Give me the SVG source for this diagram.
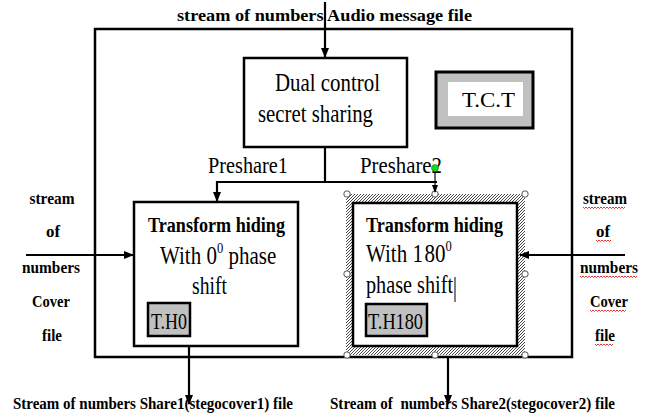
<svg xmlns="http://www.w3.org/2000/svg" width="650" height="417" viewBox="0 0 650 417" font-family="'Liberation Serif', 'Times New Roman', serif">
<defs>
<style>
text{font-family:'Liberation Serif','Times New Roman',serif;fill:#000}
.b{font-weight:bold}
.box{fill:#fff;stroke:#000;stroke-width:2.5}
.ln{fill:none;stroke:#000;stroke-width:2.2}
.tag{fill:#c0c0c0;stroke:#000;stroke-width:2.5}
.hd{fill:#fff;stroke:#555;stroke-width:1}
.wv{fill:none;stroke:#e00000;stroke-width:0.8}
</style>
<marker id="ah" markerWidth="10" markerHeight="10" refX="9" refY="5" orient="auto" markerUnits="userSpaceOnUse">
<path d="M0,1 L10,5 L0,9 z" fill="#000"/>
</marker>
<marker id="ahs" markerWidth="8" markerHeight="8" refX="7" refY="4" orient="auto" markerUnits="userSpaceOnUse">
<path d="M0,1 L8,4 L0,7 z" fill="#000"/>
</marker>
<pattern id="hatch" patternUnits="userSpaceOnUse" width="3" height="3">
<rect width="3" height="3" fill="#fff"/>
<path d="M-1,1 L1,-1 M0,3 L3,0 M2,4 L4,2" stroke="#333" stroke-width="0.9"/>
</pattern>
</defs>
<rect width="650" height="417" fill="#fff"/>

<g id="frame">
<rect x="95" y="29" width="477" height="328" fill="none" stroke="#000" stroke-width="2.5"/>
</g>

<g id="title">
<text class="b" x="177" y="21" font-size="17" textLength="295" lengthAdjust="spacingAndGlyphs">stream of numbers Audio message file</text>
</g>

<g id="dual">
<rect class="box" x="244" y="58" width="163" height="89"/>
<text x="275" y="91" font-size="25" textLength="105" lengthAdjust="spacingAndGlyphs">Dual control</text>
<text x="258" y="122" font-size="25" textLength="115" lengthAdjust="spacingAndGlyphs">secret sharing</text>
</g>

<g id="tct">
<rect x="436" y="72" width="97" height="56" fill="#c0c0c0" stroke="#000" stroke-width="3"/>
<rect x="448" y="82" width="75" height="34" fill="#fff"/>
<text x="462" y="107" font-size="22" textLength="53" lengthAdjust="spacingAndGlyphs">T.C.T</text>
</g>

<g id="labels-preshare">
<text x="208" y="173" font-size="23" textLength="80" lengthAdjust="spacingAndGlyphs">Preshare1</text>
<text x="360" y="173" font-size="23" textLength="82" lengthAdjust="spacingAndGlyphs">Preshare2</text>
</g>

<g id="th0">
<rect class="box" x="134" y="202" width="164" height="144"/>
<text class="b" x="148" y="232" font-size="20" textLength="137" lengthAdjust="spacingAndGlyphs">Transform hiding</text>
<text font-size="25" transform="translate(160,264) scale(0.84,1)">With 0<tspan font-size="15" dy="-11">0</tspan><tspan dy="11"> phase</tspan></text>
<text x="192" y="294" font-size="25" textLength="35" lengthAdjust="spacingAndGlyphs">shift</text>
<rect class="tag" x="148" y="303" width="42" height="33"/>
<text x="151" y="329" font-size="23" textLength="36" lengthAdjust="spacingAndGlyphs">T.H0</text>
</g>

<g id="th180">
<rect x="346" y="194" width="179" height="161" fill="url(#hatch)"/>
<rect class="box" x="353" y="203" width="164" height="143"/>
<text class="b" x="366" y="232" font-size="20" textLength="137" lengthAdjust="spacingAndGlyphs">Transform hiding</text>
<text font-size="25" transform="translate(366,262) scale(0.84,1)">With 1<tspan dx="2">80</tspan><tspan font-size="15" dy="-11">0</tspan></text>
<text x="366" y="293" font-size="25" textLength="87" lengthAdjust="spacingAndGlyphs">phase shift</text>
<line x1="455" y1="277" x2="455" y2="302" stroke="#000" stroke-width="1"/>
<rect class="tag" x="366" y="304" width="61" height="32"/>
<text x="368" y="329" font-size="23" textLength="55" lengthAdjust="spacingAndGlyphs">T.H180</text>
<g id="handles">
<circle class="hd" cx="347" cy="194" r="3.2"/>
<circle class="hd" cx="435" cy="194" r="3.2"/>
<circle class="hd" cx="525" cy="194" r="3.2"/>
<circle class="hd" cx="347" cy="274" r="3.2"/>
<circle class="hd" cx="525" cy="274" r="3.2"/>
<circle class="hd" cx="347" cy="355" r="3.2"/>
<circle class="hd" cx="435" cy="355" r="3.2"/>
<circle class="hd" cx="525" cy="355" r="3.2"/>
</g>
</g>

<g id="left-labels" class="b" font-size="17" text-anchor="middle">
<text class="b" x="52" y="204" textLength="45" lengthAdjust="spacingAndGlyphs">stream</text>
<text class="b" x="53" y="237" textLength="14" lengthAdjust="spacingAndGlyphs">of</text>
<text class="b" x="51" y="273" textLength="58" lengthAdjust="spacingAndGlyphs">numbers</text>
<text class="b" x="51" y="307" textLength="38" lengthAdjust="spacingAndGlyphs">Cover</text>
<text class="b" x="52" y="341" textLength="20" lengthAdjust="spacingAndGlyphs">file</text>
</g>

<g id="right-labels" class="b" font-size="17" text-anchor="middle">
<text class="b" x="605" y="204" textLength="44" lengthAdjust="spacingAndGlyphs">stream</text>
<text class="b" x="603" y="237" textLength="14" lengthAdjust="spacingAndGlyphs">of</text>
<text class="b" x="609" y="273" textLength="58" lengthAdjust="spacingAndGlyphs">numbers</text>
<text class="b" x="609" y="307" textLength="38" lengthAdjust="spacingAndGlyphs">Cover</text>
<text class="b" x="605" y="341" textLength="20" lengthAdjust="spacingAndGlyphs">file</text>
</g>
<g id="spell-marks">
<path class="wv" d="M583,207 l1.5,1.5 l1.5,-1.5 l1.5,1.5 l1.5,-1.5 l1.5,1.5 l1.5,-1.5 l1.5,1.5 l1.5,-1.5 l1.5,1.5 l1.5,-1.5 l1.5,1.5 l1.5,-1.5 l1.5,1.5 l1.5,-1.5 l1.5,1.5 l1.5,-1.5 l1.5,1.5 l1.5,-1.5 l1.5,1.5 l1.5,-1.5 l1.5,1.5 l1.5,-1.5 l1.5,1.5 l1.5,-1.5 l1.5,1.5 l1.5,-1.5 l1.5,1.5 l1.5,-1.5"/>
<path class="wv" d="M596,240 l1.5,1.5 l1.5,-1.5 l1.5,1.5 l1.5,-1.5 l1.5,1.5 l1.5,-1.5 l1.5,1.5 l1.5,-1.5 l1.5,1.5 l1.5,-1.5"/>
<path class="wv" d="M580,276 l1.5,1.5 l1.5,-1.5 l1.5,1.5 l1.5,-1.5 l1.5,1.5 l1.5,-1.5 l1.5,1.5 l1.5,-1.5 l1.5,1.5 l1.5,-1.5 l1.5,1.5 l1.5,-1.5 l1.5,1.5 l1.5,-1.5 l1.5,1.5 l1.5,-1.5 l1.5,1.5 l1.5,-1.5 l1.5,1.5 l1.5,-1.5 l1.5,1.5 l1.5,-1.5 l1.5,1.5 l1.5,-1.5 l1.5,1.5 l1.5,-1.5 l1.5,1.5 l1.5,-1.5 l1.5,1.5 l1.5,-1.5 l1.5,1.5 l1.5,-1.5 l1.5,1.5 l1.5,-1.5 l1.5,1.5 l1.5,-1.5 l1.5,1.5 l1.5,-1.5"/>
<path class="wv" d="M590,310 l1.5,1.5 l1.5,-1.5 l1.5,1.5 l1.5,-1.5 l1.5,1.5 l1.5,-1.5 l1.5,1.5 l1.5,-1.5 l1.5,1.5 l1.5,-1.5 l1.5,1.5 l1.5,-1.5 l1.5,1.5 l1.5,-1.5 l1.5,1.5 l1.5,-1.5 l1.5,1.5 l1.5,-1.5 l1.5,1.5 l1.5,-1.5 l1.5,1.5 l1.5,-1.5 l1.5,1.5 l1.5,-1.5"/>
<path class="wv" d="M595,344 l1.5,1.5 l1.5,-1.5 l1.5,1.5 l1.5,-1.5 l1.5,1.5 l1.5,-1.5 l1.5,1.5 l1.5,-1.5 l1.5,1.5 l1.5,-1.5 l1.5,1.5 l1.5,-1.5"/>
</g>

<g id="bottom-labels" font-size="16">
<text class="b" x="13" y="409" textLength="280" lengthAdjust="spacingAndGlyphs">Stream of numbers Share1(stegocover1) file</text>
<text class="b" x="330" y="409" textLength="285" lengthAdjust="spacingAndGlyphs" xml:space="preserve">Stream of  numbers Share2(stegocover2) file</text>
</g>

<g id="connectors">
<line class="ln" x1="325" y1="2" x2="325" y2="57" marker-end="url(#ah)"/>
<line class="ln" x1="325" y1="147" x2="325" y2="182"/>
<line class="ln" x1="216" y1="182" x2="437" y2="182"/>
<line class="ln" x1="217" y1="181" x2="217" y2="201" marker-end="url(#ah)"/>
<line x1="435" y1="168" x2="435" y2="192" stroke="#000" stroke-width="1.2" marker-end="url(#ahs)"/>
<line class="ln" x1="26" y1="255" x2="133" y2="255" marker-end="url(#ah)"/>
<line class="ln" x1="625" y1="255" x2="520" y2="255" marker-end="url(#ah)"/>
<line class="ln" x1="189" y1="347" x2="189" y2="404" marker-end="url(#ah)"/>
<line class="ln" x1="448" y1="356" x2="448" y2="404" marker-end="url(#ah)"/>
<circle cx="435" cy="168" r="3.5" fill="#1ed41e" stroke="#0a8a0a" stroke-width="0.6"/>
</g>
</svg>
